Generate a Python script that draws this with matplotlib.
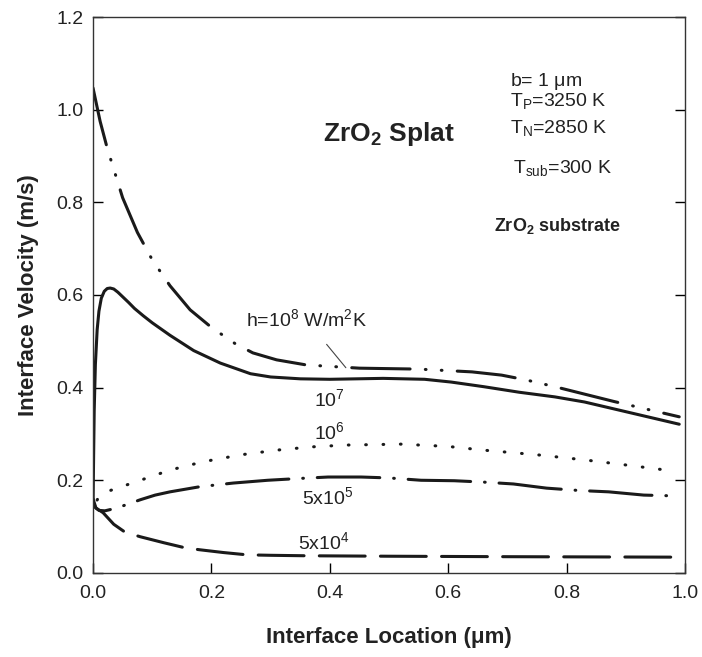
import matplotlib
matplotlib.use("Agg")
import matplotlib.pyplot as plt

plt.rcParams['font.family'] = ['Liberation Sans', 'DejaVu Sans']
plt.rcParams['lines.scale_dashes'] = False
plt.rcParams['mathtext.fontset'] = 'custom'
plt.rcParams['mathtext.rm'] = 'Liberation Sans'
plt.rcParams['mathtext.bf'] = 'Liberation Sans:bold'

# h = 1e8 W/m2K
x_h8 = [0, 0.012, 0.024, 0.05, 0.075, 0.1, 0.13, 0.164, 0.2, 0.24, 0.27, 0.31, 0.36, 0.45,
        0.55, 0.64, 0.69, 0.73, 0.78, 0.83, 0.88, 0.92, 0.99]
y_h8 = [1.047, 0.975, 0.917, 0.81, 0.735, 0.676, 0.62, 0.568, 0.53, 0.495, 0.475, 0.46, 0.449, 0.442,
        0.440, 0.434, 0.427, 0.417, 0.402, 0.386, 0.37, 0.358, 0.337]
# h = 1e7
x_h7 = [0, 0.001, 0.002, 0.004, 0.007, 0.010, 0.014, 0.019, 0.024, 0.029, 0.035, 0.042, 0.051, 0.06,
        0.07, 0.085, 0.1, 0.13, 0.17, 0.215, 0.266, 0.3, 0.35, 0.4, 0.49, 0.56, 0.605, 0.66, 0.72,
        0.78, 0.83, 0.9, 0.99]
y_h7 = [0.14, 0.25, 0.35, 0.45, 0.525, 0.565, 0.593, 0.608, 0.614, 0.615, 0.613, 0.606, 0.595, 0.584,
        0.571, 0.555, 0.54, 0.513, 0.48, 0.453, 0.43, 0.423, 0.419, 0.418, 0.42, 0.418, 0.412, 0.402,
        0.39, 0.38, 0.369, 0.348, 0.321]
# h = 1e6
x_h6 = [0, 0.01, 0.027, 0.08, 0.13, 0.186, 0.25, 0.31, 0.368, 0.427, 0.52, 0.6, 0.66, 0.75,
        0.83, 0.9, 0.98]
y_h6 = [0.14, 0.165, 0.177, 0.2, 0.222, 0.24, 0.255, 0.265, 0.272, 0.276, 0.278, 0.273, 0.265, 0.255,
        0.244, 0.233, 0.22]
# h = 5e5
x_h55 = [0, 0.005, 0.01, 0.02, 0.04, 0.08, 0.105, 0.13, 0.18, 0.237, 0.295, 0.35, 0.397, 0.453,
         0.5, 0.554, 0.61, 0.66, 0.71, 0.766, 0.82, 0.871, 0.93, 0.99]
y_h55 = [0.15, 0.14, 0.135, 0.134, 0.14, 0.158, 0.168, 0.175, 0.186, 0.194, 0.2, 0.204, 0.207, 0.207,
         0.205, 0.2, 0.199, 0.196, 0.192, 0.183, 0.178, 0.175, 0.168, 0.166]
# h = 5e4
x_h54 = [0, 0.005, 0.017, 0.035, 0.054, 0.08, 0.12, 0.156, 0.18, 0.22, 0.26, 0.3, 0.36, 0.5, 0.7, 0.99]
y_h54 = [0.16, 0.14, 0.13, 0.105, 0.088, 0.078, 0.065, 0.054, 0.05, 0.044, 0.039, 0.038, 0.037,
         0.036, 0.035, 0.034]

xticks = [0.0, 0.2, 0.4, 0.6, 0.8, 1.0]
yticks = [0.0, 0.2, 0.4, 0.6, 0.8, 1.0, 1.2]

fig = plt.figure(figsize=(7.02, 6.57), dpi=100)
ax = fig.add_axes([0.1325, 0.128, 0.8435, 0.846])

lw = 2.2
kw = dict(color='#1a1a1a', lw=lw, dash_capstyle='round', solid_capstyle='round', solid_joinstyle='round')
ax.plot(x_h8, y_h8, ls=(0, (42, 11, 0.5, 11, 0.5, 11)), **kw)
ax.plot(x_h7, y_h7, ls='-', **kw)
ax.plot(x_h6, y_h6, ls=(6, (0.5, 12)), **kw)
ax.plot(x_h55, y_h55, ls=(30, (45, 10, 0.5, 10)), **kw)
ax.plot(x_h54, y_h54, ls=(0, (33, 11)), **kw)

ax.set_xlim(0, 1.0)
ax.set_ylim(0, 1.2)
ax.set_xticks(xticks)
ax.set_yticks(yticks)
ax.set_xticklabels([f"{v:.1f}" for v in xticks])
ax.set_yticklabels([f"{v:.1f}" for v in yticks])
ax.tick_params(direction='in', length=7, width=1, top=False, right=True, labelsize=14,
               labelcolor='#222222')
ax.tick_params(axis='x', pad=9)
ax.tick_params(axis='y', pad=7)
for s in ax.spines.values():
    s.set_linewidth(1.0)
    s.set_color('#333333')

ax.set_xlabel('Interface Location (\u03bcm)', fontsize=16, fontweight='bold', labelpad=18, color='#222222')
ax.set_ylabel('Interface Velocity (m/s)', fontsize=16, fontweight='bold', labelpad=12, color='#222222')

tc = '#222222'
fs = 14
ax.text(0.5, 0.948, r'ZrO$_\mathbf{2}$ Splat', fontsize=19, fontweight='bold', ha='center', va='center', color=tc)
ax.text(0.705, 1.062, r'b= 1 $\mathrm{\mu}$m', fontsize=fs, ha='left', va='center', color=tc)
ax.text(0.705, 1.016, r'T$_\mathrm{P}$=3250 K', fontsize=fs, ha='left', va='center', color=tc)
ax.text(0.705, 0.958, r'T$_\mathrm{N}$=2850 K', fontsize=fs, ha='left', va='center', color=tc)
ax.text(0.71, 0.872, r'T$_\mathrm{sub}$=300 K', fontsize=fs, ha='left', va='center', color=tc)
ax.text(0.677, 0.75, r'ZrO$_\mathbf{2}$ substrate', fontsize=13, fontweight='bold', ha='left', va='center', color=tc)

ax.annotate(r'h=10$^8$ W/m$^2$K', xy=(0.427, 0.443), xytext=(0.36, 0.547),
            fontsize=fs, ha='center', va='center', color=tc,
            arrowprops=dict(arrowstyle='-', color='#444444', lw=0.8, shrinkA=10, shrinkB=0))
ax.text(0.40, 0.373, r'10$^7$', fontsize=fs, ha='center', va='center', color=tc)
ax.text(0.40, 0.303, r'10$^6$', fontsize=fs, ha='center', va='center', color=tc)
ax.text(0.397, 0.162, r'5x10$^5$', fontsize=fs, ha='center', va='center', color=tc)
ax.text(0.39, 0.066, r'5x10$^4$', fontsize=fs, ha='center', va='center', color=tc)

fig.savefig('out.png', dpi=100)
